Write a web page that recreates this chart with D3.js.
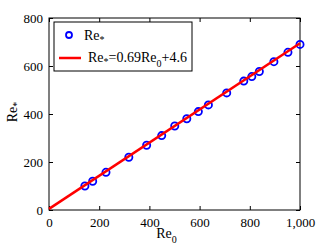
<!DOCTYPE html>
<html>
<head>
<meta charset="utf-8">
<script src="https://d3js.org/d3.v7.min.js"></script>
<style>
  body { margin: 0; background: #fff; }
  svg text { font-family: "Liberation Serif", "DejaVu Serif", serif; fill: #000; }
</style>
</head>
<body>
<svg id="chart" width="332" height="250"></svg>
<script>
// measured points (Re0, Re*)
var re0 = [143, 174, 227, 318, 389, 449, 501, 549, 595, 635, 708, 776, 808, 838, 896, 952, 1000];
var reStar = [100, 120, 157, 220, 270, 310, 350, 380, 410, 438, 488, 537, 556, 577, 618, 657, 690];
// fitted line Re* = 0.69 Re0 + 4.6
var fitX = [0, 1000];
var fitSlope = 0.69, fitIntercept = 4.6;
var xTicks = [0, 200, 400, 600, 800, 1000];
var yTicks = [0, 200, 400, 600, 800];

var svg = d3.select("#chart"),
    margin = {top: 18, right: 32, bottom: 40, left: 49},
    width = 332 - margin.left - margin.right,
    height = 250 - margin.top - margin.bottom;

var x = d3.scaleLinear().domain([0, 1000]).range([0, width]),
    y = d3.scaleLinear().domain([0, 800]).range([height, 0]);

var g = svg.append("g")
    .attr("transform", "translate(" + margin.left + "," + margin.top + ")");

// frame
g.append("rect")
    .attr("width", width).attr("height", height)
    .attr("fill", "none").attr("stroke", "#000").attr("stroke-width", 1);

function styleAxis(sel, showText) {
    sel.select(".domain").remove();
    sel.selectAll("line").attr("stroke", "#000");
    sel.selectAll("text").style("font-size", "13px").attr("fill", "#000");
    if (!showText) sel.selectAll("text").remove();
}

g.append("g")
    .attr("transform", "translate(0," + height + ")")
    .call(d3.axisBottom(x).tickValues(xTicks).tickSizeInner(-4).tickPadding(8))
    .call(function (s) { styleAxis(s, true); });
g.append("g")
    .call(d3.axisTop(x).tickValues(xTicks).tickSizeInner(-4))
    .call(function (s) { styleAxis(s, false); });
g.append("g")
    .call(d3.axisLeft(y).tickValues(yTicks).tickSizeInner(-4).tickPadding(6))
    .call(function (s) { styleAxis(s, true); });
g.append("g")
    .attr("transform", "translate(" + width + ",0)")
    .call(d3.axisRight(y).tickValues(yTicks).tickSizeInner(-4))
    .call(function (s) { styleAxis(s, false); });

// points
var pts = re0.map(function (d, i) { return {x: d, y: reStar[i]}; });
g.selectAll(".pt")
    .data(pts)
    .enter().append("circle")
    .attr("class", "pt")
    .attr("cx", function (d) { return x(d.x); })
    .attr("cy", function (d) { return y(d.y); })
    .attr("r", 3.6)
    .attr("fill", "none")
    .attr("stroke", "#0000ff")
    .attr("stroke-width", 1.8);

// fit line
var line = d3.line()
    .x(function (d) { return x(d); })
    .y(function (d) { return y(fitSlope * d + fitIntercept); });
g.append("path")
    .datum(fitX)
    .attr("d", line)
    .attr("fill", "none")
    .attr("stroke", "#ff0000")
    .attr("stroke-width", 2.5);

// legend
var lg = svg.append("g").attr("transform", "translate(54,22)");
lg.append("rect")
    .attr("width", 138).attr("height", 49)
    .attr("fill", "#fff").attr("stroke", "#000").attr("stroke-width", 1);
lg.append("circle")
    .attr("cx", 15).attr("cy", 13).attr("r", 3)
    .attr("fill", "none").attr("stroke", "#0000ff").attr("stroke-width", 1.8);
var t1 = lg.append("text").attr("x", 30).attr("y", 18).style("font-size", "14px");
t1.append("tspan").text("Re");
t1.append("tspan").attr("dy", 3).style("font-size", "10px").text("*");
lg.append("line")
    .attr("x1", 5).attr("x2", 27).attr("y1", 36).attr("y2", 36)
    .attr("stroke", "#ff0000").attr("stroke-width", 2.5);
var t2 = lg.append("text").attr("x", 34).attr("y", 40).style("font-size", "14px");
t2.append("tspan").text("Re");
t2.append("tspan").attr("dy", 3).style("font-size", "10px").text("*");
t2.append("tspan").attr("dy", -3).text("=0.69Re");
t2.append("tspan").attr("dy", 5).style("font-size", "10px").text("0");
t2.append("tspan").attr("dy", -5).text("+4.6");

// axis labels
var xl = svg.append("text")
    .attr("x", margin.left + width / 2 - 8).attr("y", 238)
    .attr("text-anchor", "middle").style("font-size", "14px");
xl.append("tspan").text("Re");
xl.append("tspan").attr("dy", 5).style("font-size", "10px").text("0");

var yl = svg.append("text")
    .attr("transform", "translate(17," + (margin.top + height / 2 - 2) + ") rotate(-90)")
    .attr("text-anchor", "middle").style("font-size", "14px");
yl.append("tspan").text("Re");
yl.append("tspan").attr("dy", 3).style("font-size", "10px").text("*");
</script>
</body>
</html>
